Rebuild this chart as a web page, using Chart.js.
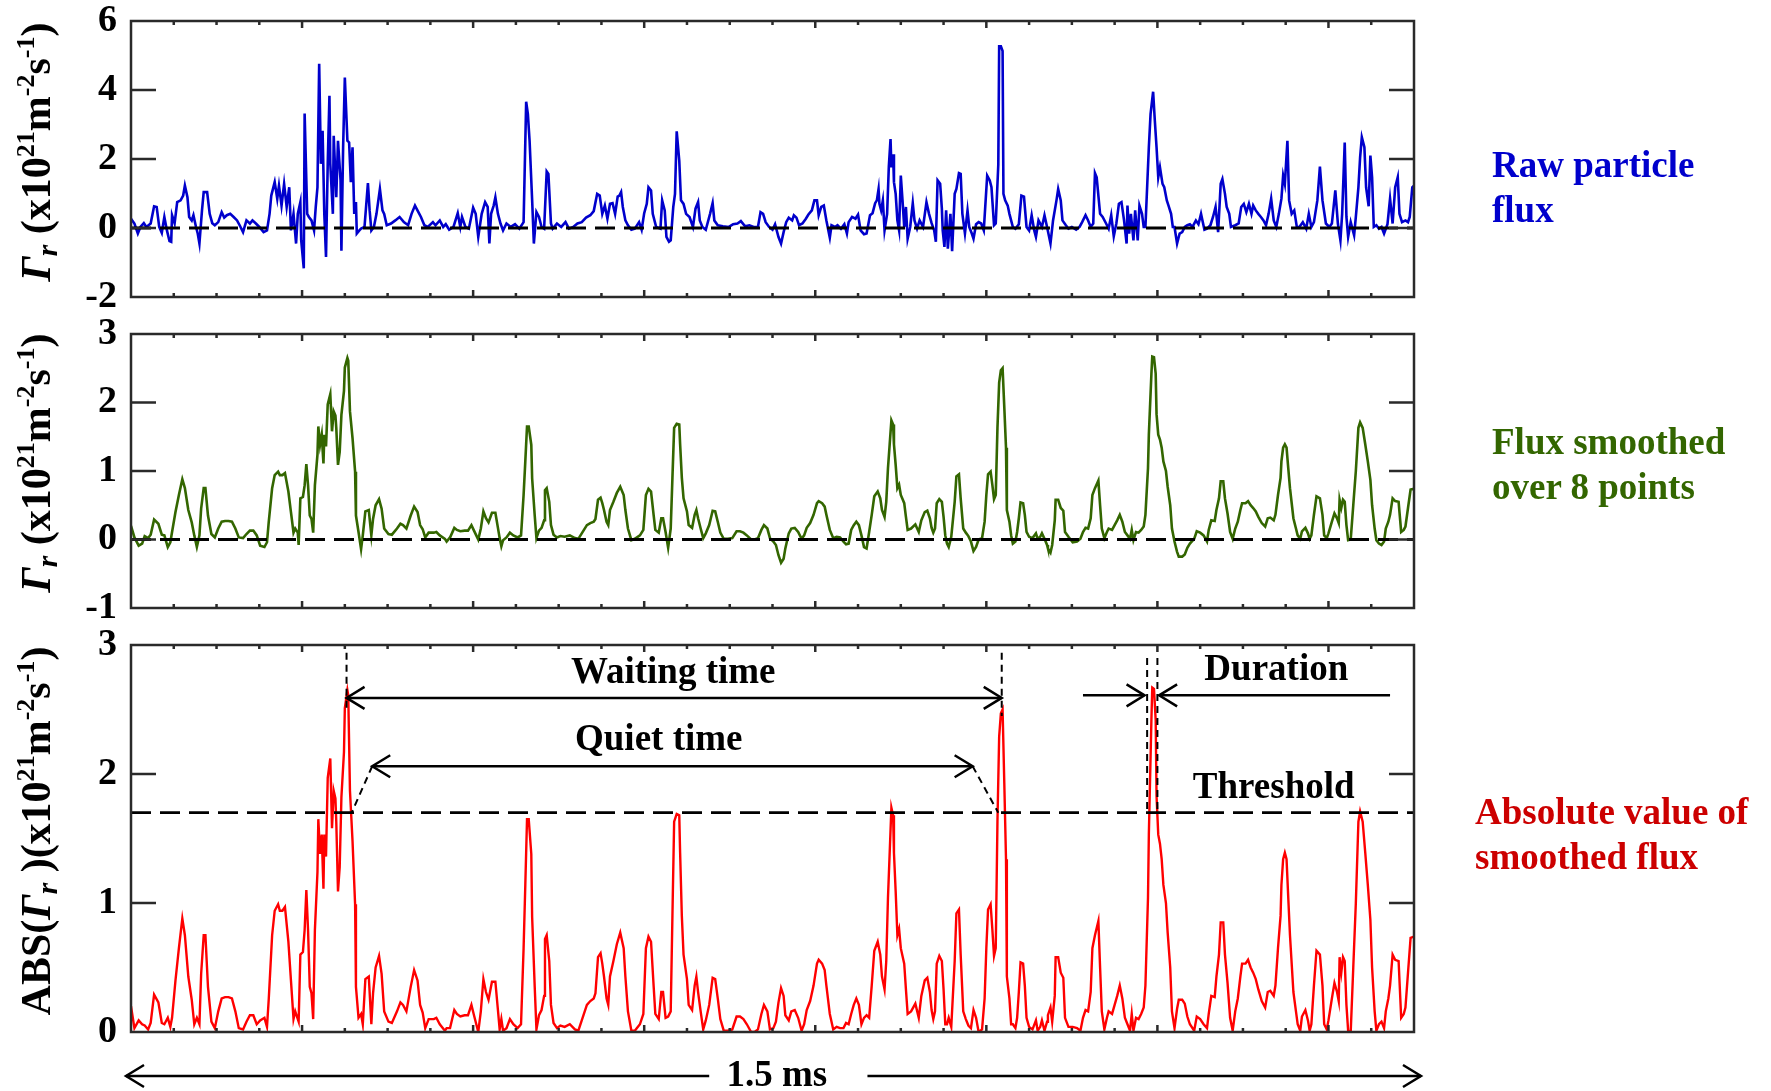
<!DOCTYPE html>
<html>
<head>
<meta charset="utf-8">
<script src="https://cdn.jsdelivr.net/npm/chart.js@4.4.1/dist/chart.umd.min.js"></script>
<style>
  html, body { margin: 0; padding: 0; background: #fff; }
  #page { position: relative; width: 1771px; height: 1091px; overflow: hidden;
          font-family: 'Liberation Serif', 'Times New Roman', serif; font-weight: bold; }
  canvas { position: absolute; left: 0; }
  .ytitle { position: absolute; white-space: nowrap; font-size: 42px; color: #000;
            transform: translate(-50%, -50%) rotate(-90deg); }
  .ytitle sup { font-size: 0.62em; vertical-align: 0.62em; line-height: 0; }
  .ytitle sub { font-size: 0.7em; vertical-align: -0.25em; line-height: 0; }
  .note { position: absolute; font-size: 37px; line-height: 45px; white-space: nowrap; }
</style>
</head>
<body>
<div id="page">
  <canvas id="rawChart" width="1771" height="356" style="top:-19px"></canvas>
  <canvas id="smoothChart" width="1771" height="354" style="top:294px"></canvas>
  <canvas id="absChart" width="1771" height="486" style="top:605px"></canvas>

  <div class="ytitle" style="left:36px; top:152px"><i>Γ</i><sub><i>r</i></sub> (x10<sup>21</sup>m<sup>-2</sup>s<sup>-1</sup>)</div>
  <div class="ytitle" style="left:36px; top:463px"><i>Γ</i><sub><i>r</i></sub> (x10<sup>21</sup>m<sup>-2</sup>s<sup>-1</sup>)</div>
  <div class="ytitle" style="left:36px; top:831px">ABS(<i>Γ</i><sub><i>r</i></sub> )(x10<sup>21</sup>m<sup>-2</sup>s<sup>-1</sup>)</div>

  <div class="note" style="left:1492px; top:142px; color:#0000cc">Raw particle<br>flux</div>
  <div class="note" style="left:1492px; top:419px; color:#336600">Flux smoothed<br>over 8 points</div>
  <div class="note" style="left:1475px; top:789px; color:#cc0000">Absolute value of<br>smoothed flux</div>
</div>

<script>
// time in microseconds (1.5 ms window)
const rawT = [0,4,8,11,15,18,23,27,30,33,36,39,42,45,47,48,51,54,58,61,63,66,68,71,73,76,78,80,83,85,89,92,95,98,102,106,109,112,116,120,124,127,131,135,139,142,146,150,155,159,162,164,168,171,173,176,179,182,185,187,190,193,195,198,199,202,203,206,208,211,214,216,218,220,222,224,226,228,230,232,233,236,237,240,242,245,246,248,250,253,255,257,259,261,263,264,267,269,273,277,279,281,284,287,291,294,296,299,304,309,314,319,324,328,332,336,339,343,347,353,356,361,365,368,372,377,382,385,387,391,395,400,403,406,410,414,417,419,421,424,426,429,432,435,439,444,449,454,459,462,464,466,469,471,474,477,480,483,486,488,491,493,498,503,508,512,517,522,527,532,537,541,545,548,551,554,557,560,563,566,569,571,573,575,578,581,585,589,594,597,600,603,605,608,610,614,619,621,624,626,629,631,634,636,638,641,643,646,649,653,657,660,663,665,668,672,677,680,682,686,692,699,704,709,713,718,723,728,733,736,739,742,746,750,753,757,760,763,766,769,773,775,778,781,785,789,792,796,799,802,804,807,810,813,817,819,823,826,830,834,837,839,843,847,850,853,857,860,864,867,870,872,874,875,877,879,881,884,886,888,889,891,892,894,896,898,900,902,904,906,908,911,914,916,919,922,926,930,933,936,939,941,943,946,948,949,951,953,955,958,960,963,965,968,970,972,975,978,980,983,985,988,991,994,997,999,1001,1004,1006,1009,1011,1014,1015,1017,1019,1020,1022,1025,1027,1031,1034,1038,1041,1044,1047,1050,1053,1056,1058,1061,1065,1068,1071,1075,1078,1082,1084,1087,1089,1093,1096,1100,1105,1109,1112,1116,1119,1122,1125,1127,1129,1133,1136,1140,1143,1146,1149,1152,1155,1158,1161,1164,1165,1167,1169,1172,1174,1177,1179,1182,1184,1186,1190,1192,1195,1197,1199,1201,1203,1206,1208,1211,1213,1216,1218,1220,1223,1226,1229,1232,1235,1238,1241,1245,1248,1251,1255,1258,1262,1265,1268,1271,1274,1276,1279,1281,1284,1286,1291,1295,1298,1301,1304,1307,1310,1312,1315,1318,1321,1324,1327,1330,1333,1336,1339,1342,1345,1347,1349,1352,1354,1357,1360,1363,1366,1370,1374,1377,1380,1383,1387,1390,1393,1397,1401,1404,1408,1411,1414,1416,1419,1421,1423,1426,1430,1432,1435,1437,1439,1442,1444,1447,1449,1451,1453,1456,1459,1462,1465,1469,1472,1475,1478,1481,1483,1486,1490,1493,1495,1498,1500];
const rawFlux = [0.27,0.13,-0.16,0.03,0.14,0.03,0.13,0.63,0.61,0.03,-0.14,0.32,-0.07,-0.38,-0.40,0.37,0.14,0.75,0.80,0.94,1.23,0.89,0.32,0.22,0.37,0.03,-0.16,-0.45,0.51,1.04,1.04,0.41,0.14,0.08,0.17,0.46,0.30,0.37,0.41,0.32,0.22,0.08,-0.12,0.22,0.13,0.22,0.13,0.03,-0.12,-0.07,0.41,0.94,1.33,0.85,1.23,0.65,1.28,0.61,1.18,-0.07,0.41,-0.45,0.41,0.75,-0.36,-1.17,3.32,0.41,0.32,0.22,-0.07,0.61,1.18,4.76,1.86,2.82,0.41,-0.84,1.86,3.83,1.86,0.41,2.67,0.89,2.53,1.38,-0.66,2.34,4.36,2.53,2.48,1.33,2.34,0.41,0.75,-0.16,-0.07,-0.02,0.03,1.30,0.51,-0.07,0.03,0.41,1.13,0.51,0.41,0.08,0.13,0.22,0.32,0.17,0.08,0.41,0.65,0.46,0.32,0.08,0.03,0.17,0.08,0.22,0.03,0.11,-0.05,0.03,0.43,0.03,0.32,0.03,-0.02,0.59,0.41,-0.26,0.41,0.75,0.61,-0.45,0.41,0.65,0.89,0.41,0.13,-0.07,0.13,0.03,0.11,-0.02,0.17,3.66,3.30,2.53,0.80,-0.45,0.46,0.32,0.03,-0.02,1.64,1.57,0.13,-0.02,0.13,0.03,0.17,-0.02,0.03,0.13,0.17,0.30,0.37,0.49,0.99,0.94,0.41,0.65,0.27,0.70,0.72,0.41,0.91,0.94,1.04,0.61,0.22,0.08,-0.05,-0.02,0.17,-0.05,0.43,0.70,1.18,1.09,0.41,0.03,-0.02,0.80,0.51,-0.26,-0.40,-0.36,0.61,0.99,2.80,1.95,0.80,0.70,0.41,0.32,0.03,0.56,0.75,0.22,0.03,-0.05,0.41,0.72,0.22,0.08,0.05,0.03,0.11,0.13,0.20,0.05,0.08,0.03,0.03,0.46,0.41,0.17,0.03,-0.05,0.11,-0.26,-0.45,-0.12,0.17,0.30,0.22,0.37,0.30,0.08,0.13,0.27,0.39,0.51,0.80,0.80,0.37,0.61,0.65,0.22,-0.28,0.08,0.03,0.08,-0.02,0.11,-0.16,0.17,0.32,0.27,0.39,-0.07,-0.18,-0.16,0.37,0.43,0.72,0.80,1.13,0.70,0.51,0.80,-0.07,0.41,1.78,2.58,1.76,2.14,1.33,0.99,0.22,-0.07,1.52,0.80,0.03,0.61,-0.31,0.03,0.72,0.22,-0.02,0.22,0.03,0.75,0.41,0.14,-0.07,-0.40,1.38,1.28,0.56,-0.07,-0.55,0.51,-0.60,0.41,-0.67,0.99,1.13,1.59,1.57,0.41,-0.16,0.51,0.03,-0.16,-0.31,0.11,0.17,0.13,-0.07,0.72,1.52,1.38,1.18,0.08,0.13,1.84,5.27,5.27,5.13,0.99,0.80,0.65,0.41,0.03,-0.02,0.11,0.94,0.91,0.03,-0.07,0.37,-0.07,-0.26,0.22,0.03,0.37,0.03,-0.45,0.22,0.80,1.13,0.80,0.22,0.08,-0.02,0.03,-0.05,0.03,0.17,0.37,0.22,0.03,0.13,1.59,1.47,0.41,0.32,0.13,-0.02,0.37,-0.24,0.13,0.70,0.75,0.22,-0.45,0.65,-0.16,0.41,-0.36,0.51,-0.36,0.65,0.41,0.03,0.03,2.34,3.30,3.95,3.11,2.34,1.47,1.76,1.28,1.18,0.80,0.65,0.41,0.03,0.03,-0.45,-0.16,-0.12,0.03,0.08,0.11,0.03,0.22,0.11,0.41,-0.05,-0.02,0.08,0.32,0.61,-0.12,1.28,1.42,0.99,0.61,0.41,0.03,0.08,0.13,0.61,0.70,0.46,0.70,0.41,0.65,0.51,0.41,0.32,0.22,0.08,0.41,0.85,0.22,0.03,0.41,0.85,1.52,1.28,2.53,0.80,0.41,0.51,0.03,0.03,0.17,-0.02,0.41,0.03,0.17,0.80,1.78,0.80,0.13,0.03,0.13,1.09,0.13,-0.36,0.41,2.48,0.32,-0.26,0.17,-0.21,0.32,1.18,2.05,2.63,2.34,1.18,0.63,2.10,1.47,0.03,0.08,-0.02,0.03,-0.16,0.11,0.85,0.13,1.18,1.47,0.41,0.17,0.22,0.17,0.32,1.18,1.23];

const smoothT = [0,4,9,13,16,20,23,27,32,36,39,43,46,48,52,56,60,63,67,71,74,77,80,82,85,87,90,94,98,102,106,110,114,118,122,126,131,135,139,143,147,151,156,159,161,165,168,172,174,177,180,184,187,190,192,195,196,198,201,203,205,207,209,211,213,215,218,219,221,223,225,226,228,230,233,235,237,239,240,242,244,246,249,250,253,254,256,259,262,263,266,269,271,274,278,281,283,286,290,293,296,301,305,311,315,318,322,327,331,335,338,341,344,348,354,357,361,367,369,373,378,381,385,390,394,398,401,406,409,412,415,418,422,426,429,431,433,435,439,443,447,452,456,459,461,463,465,468,469,472,474,477,480,483,484,486,489,491,494,498,502,507,513,519,523,527,533,537,541,543,546,549,551,553,556,558,560,564,568,572,576,578,581,585,589,595,599,602,605,608,611,613,617,620,622,625,628,631,633,635,638,641,642,644,646,650,652,656,659,661,663,666,669,672,676,680,683,686,689,693,698,703,708,712,716,720,725,729,733,737,740,744,747,751,754,757,760,763,765,769,772,776,780,784,787,790,794,798,802,804,808,811,813,817,821,825,829,833,836,839,842,845,848,851,854,857,860,863,866,869,873,876,878,881,883,885,887,889,891,892,894,896,898,900,902,904,906,908,912,917,921,924,928,931,934,936,938,940,942,945,948,950,952,954,956,959,963,965,968,970,973,976,979,982,985,988,991,995,998,1000,1002,1005,1007,1009,1011,1013,1015,1017,1019,1021,1023,1024,1027,1029,1031,1034,1036,1038,1040,1043,1045,1047,1050,1054,1058,1060,1063,1065,1068,1071,1072,1075,1077,1080,1081,1084,1087,1090,1092,1096,1101,1106,1110,1113,1116,1119,1122,1124,1127,1131,1133,1135,1138,1141,1143,1147,1150,1153,1156,1159,1162,1165,1168,1170,1172,1175,1178,1181,1184,1186,1189,1190,1193,1194,1196,1198,1199,1201,1203,1205,1207,1210,1212,1215,1217,1220,1223,1225,1229,1232,1235,1238,1243,1246,1250,1254,1258,1260,1263,1267,1269,1272,1274,1277,1279,1282,1285,1288,1291,1294,1297,1299,1303,1306,1309,1312,1315,1318,1322,1326,1329,1332,1336,1338,1341,1344,1345,1347,1349,1351,1353,1355,1359,1362,1364,1367,1369,1373,1376,1378,1380,1383,1386,1390,1393,1395,1398,1400,1404,1407,1410,1412,1413,1415,1417,1419,1421,1423,1426,1429,1432,1435,1437,1440,1443,1446,1449,1451,1454,1456,1459,1462,1465,1467,1470,1472,1475,1478,1482,1485,1488,1490,1493,1496,1500];
const smoothFlux = [0.20,0.03,-0.09,-0.06,0.05,0.02,0.07,0.29,0.23,0.07,0.06,-0.11,-0.04,0.11,0.40,0.65,0.88,0.75,0.43,0.25,0.06,-0.11,0.06,0.45,0.75,0.75,0.35,0.08,0.03,0.16,0.26,0.27,0.27,0.26,0.16,0.03,0.02,0.08,0.13,0.13,0.06,-0.09,-0.11,-0.04,0.25,0.75,0.94,0.99,0.94,0.94,0.97,0.70,0.40,0.10,0.16,0.10,-0.08,0.60,0.62,0.79,1.10,0.79,0.35,0.30,0.10,0.79,1.24,1.65,1.38,1.53,1.11,1.53,1.36,1.97,2.12,1.58,1.87,1.81,1.63,1.09,1.28,1.82,2.17,2.51,2.65,2.61,1.87,1.48,0.99,0.35,0.11,-0.14,0.06,0.41,0.43,0.06,0.30,0.50,0.59,0.45,0.16,0.08,0.07,0.16,0.23,0.21,0.16,0.35,0.48,0.40,0.21,0.15,0.03,0.10,0.10,0.11,0.06,0.01,-0.03,0.03,0.17,0.14,0.12,0.13,0.13,0.21,0.13,0.00,0.16,0.41,0.31,0.25,0.39,0.39,0.17,0.02,-0.10,-0.01,0.03,0.10,0.06,0.03,0.06,0.65,1.14,1.65,1.65,1.38,0.89,0.35,0.02,0.13,0.17,0.28,0.72,0.75,0.55,0.21,0.07,0.03,0.05,0.04,0.06,0.02,0.01,0.09,0.21,0.24,0.26,0.30,0.58,0.61,0.53,0.43,0.26,0.21,0.43,0.55,0.68,0.77,0.65,0.43,0.16,-0.01,0.01,0.06,0.14,0.65,0.74,0.70,0.36,0.14,0.10,0.31,0.31,0.11,-0.12,0.16,0.90,1.63,1.69,1.68,1.39,0.90,0.60,0.41,0.21,0.17,0.36,0.43,0.31,0.16,0.02,0.09,0.21,0.42,0.41,0.26,0.10,0.01,0.01,0.02,0.12,0.12,0.10,0.06,0.00,0.00,0.02,0.14,0.21,0.16,0.02,-0.03,-0.08,-0.23,-0.34,-0.28,-0.13,0.09,0.16,0.17,0.11,0.01,0.06,0.17,0.24,0.36,0.53,0.56,0.53,0.48,0.36,0.14,0.02,0.04,0.03,-0.03,-0.07,-0.06,0.14,0.21,0.26,0.21,0.06,-0.11,-0.13,0.11,0.36,0.63,0.70,0.60,0.43,0.33,0.55,1.04,1.39,1.74,1.68,1.39,1.09,0.75,0.80,0.65,0.59,0.53,0.33,0.14,0.16,0.22,0.11,0.28,0.40,0.42,0.31,0.17,0.10,0.16,0.53,0.59,0.55,0.33,0.06,-0.06,-0.11,0.04,0.55,0.92,0.95,0.60,0.16,0.10,0.05,-0.03,-0.17,-0.11,0.00,0.02,0.26,0.65,0.95,0.99,0.80,0.59,0.65,1.63,2.29,2.47,2.50,1.93,1.34,0.43,0.26,0.06,-0.06,-0.03,0.11,0.31,0.54,0.53,0.36,0.11,0.04,0.02,0.09,0.01,0.04,0.09,0.01,-0.08,-0.13,-0.19,-0.08,0.28,0.58,0.58,0.46,0.42,0.11,0.04,-0.04,-0.03,0.01,0.11,0.17,0.16,0.31,0.65,0.75,0.86,0.50,0.16,0.02,0.11,0.16,0.14,0.21,0.28,0.36,0.26,0.11,0.06,0.01,0.14,-0.01,0.11,0.10,0.14,0.19,0.36,1.04,1.53,2.42,2.67,2.66,2.42,1.83,1.53,1.46,1.34,1.14,1.00,0.77,0.50,0.16,-0.03,-0.18,-0.25,-0.25,-0.22,-0.12,-0.06,0.01,0.12,0.10,0.06,-0.03,0.14,0.28,0.27,0.43,0.60,0.85,0.85,0.60,0.38,0.11,0.01,0.16,0.26,0.43,0.53,0.53,0.56,0.50,0.46,0.41,0.33,0.24,0.19,0.31,0.32,0.28,0.36,0.65,0.90,1.14,1.34,1.39,1.34,1.04,0.75,0.31,0.16,0.06,0.01,0.12,0.17,0.09,0.01,0.06,0.36,0.63,0.60,0.36,0.06,0.02,0.09,0.26,0.38,0.31,0.24,0.58,0.46,0.58,0.55,0.21,-0.01,0.00,0.50,1.00,1.63,1.71,1.63,1.39,1.14,0.87,0.50,0.16,-0.01,-0.06,-0.08,-0.03,0.16,0.26,0.36,0.60,0.56,0.55,0.11,0.14,0.19,0.46,0.73,0.74];

// bottom panel: absolute value of the smoothed flux
const absFlux = smoothFlux.map(v => Math.abs(v));

const rawTicks = [-2, 0, 2, 4, 6];
const smoothTicks = [-1, 0, 1, 2, 3];
const absTicks = [0, 1, 2, 3];

const threshold = 1.7;
const waitStart = 252, waitEnd = 1018, waitLevel = 2.59;
const quietStart = 282, quietEnd = 984, quietLevel = 2.06;
const durStart = 1188, durEnd = 1200, durLevel = 2.61;

const tMax = 1500;
const minorStep = 50, majorStep = 200;
const serif = '"Liberation Serif", "Times New Roman", serif';

const frame = {
    id: 'frame',
    afterDatasetsDraw(chart) {
        const { ctx, chartArea: a, scales: { x, y } } = chart;
        ctx.save();
        ctx.strokeStyle = '#2a2a2a';
        ctx.lineWidth = 2.5;
        ctx.beginPath();
        for (let t = minorStep; t < tMax; t += minorStep) {
            const px = x.getPixelForValue(t);
            const len = t % majorStep === 0 ? 7 : 4;
            ctx.moveTo(px, a.top); ctx.lineTo(px, a.top + len);
            ctx.moveTo(px, a.bottom); ctx.lineTo(px, a.bottom - len);
        }
        y.ticks.forEach(tk => {
            if (tk.value <= y.min || tk.value >= y.max) return;
            const py = y.getPixelForValue(tk.value);
            ctx.moveTo(a.left, py); ctx.lineTo(a.left + 25, py);
            ctx.moveTo(a.right, py); ctx.lineTo(a.right - 25, py);
        });
        ctx.stroke();
        ctx.strokeRect(a.left, a.top, a.right - a.left, a.bottom - a.top);
        ctx.restore();
    }
};

function seg(ctx, x1, y1, x2, y2) {
    ctx.beginPath(); ctx.moveTo(x1, y1); ctx.lineTo(x2, y2); ctx.stroke();
}

function head(ctx, tipX, tipY, dir) {
    // open chevron, dir = +1 points right, -1 points left
    ctx.beginPath();
    ctx.moveTo(tipX - dir * 18, tipY - 11);
    ctx.lineTo(tipX, tipY);
    ctx.lineTo(tipX - dir * 18, tipY + 11);
    ctx.stroke();
}

const annotations = {
    id: 'annotations',
    afterDraw(chart) {
        const { ctx, chartArea: a, scales: { x, y } } = chart;
        const X = v => x.getPixelForValue(v);
        const Y = v => y.getPixelForValue(v);
        ctx.save();
        ctx.strokeStyle = '#000';
        ctx.fillStyle = '#000';

        // dashed guide lines
        ctx.lineWidth = 2;
        ctx.setLineDash([7, 5]);
        seg(ctx, X(waitStart), Y(2.94), X(waitStart), Y(2.5));
        seg(ctx, X(waitEnd), Y(2.94), X(waitEnd), Y(2.45));
        seg(ctx, X(quietStart), Y(quietLevel), X(258), Y(threshold));
        seg(ctx, X(quietEnd), Y(quietLevel), X(1014), Y(threshold));
        seg(ctx, X(durStart), Y(2.9), X(durStart), Y(threshold));
        seg(ctx, X(durEnd), Y(2.9), X(durEnd), Y(threshold));
        ctx.setLineDash([]);

        // arrows
        ctx.lineWidth = 2.5;
        seg(ctx, X(waitStart), Y(waitLevel), X(waitEnd), Y(waitLevel));
        head(ctx, X(waitStart), Y(waitLevel), -1);
        head(ctx, X(waitEnd), Y(waitLevel), 1);
        seg(ctx, X(quietStart), Y(quietLevel), X(quietEnd), Y(quietLevel));
        head(ctx, X(quietStart), Y(quietLevel), -1);
        head(ctx, X(quietEnd), Y(quietLevel), 1);
        seg(ctx, X(1113), Y(durLevel), X(durStart - 3), Y(durLevel));
        head(ctx, X(durStart - 3), Y(durLevel), 1);
        seg(ctx, X(durEnd + 2), Y(durLevel), X(1472), Y(durLevel));
        head(ctx, X(durEnd + 2), Y(durLevel), -1);

        ctx.font = 'bold 37px ' + serif;
        ctx.textAlign = 'center';
        ctx.textBaseline = 'middle';
        ctx.fillText('Waiting time', X(634), Y(2.78));
        ctx.fillText('Quiet time', X(617), Y(2.26));
        ctx.fillText('Duration', X(1339), Y(2.80));
        ctx.fillText('Threshold', X(1336), Y(1.89));

        // 1.5 ms span arrow under the panel
        const ay = a.bottom + 44;
        const left = X(0) - 5, right = X(tMax) + 7;
        seg(ctx, left, ay, X(676), ay);
        head(ctx, left, ay, -1);
        seg(ctx, X(861), ay, right, ay);
        head(ctx, right, ay, 1);
        ctx.fillText('1.5 ms', X(755), ay);
        ctx.restore();
    }
};

function pts(ts, vs) {
    return ts.map((t, i) => ({ x: t, y: vs[i] }));
}

function dashed(level) {
    return {
        data: [{ x: 0, y: level }, { x: tMax, y: level }],
        borderColor: '#000',
        borderWidth: 2.8,
        borderDash: [20, 9],
        order: 0
    };
}

function makePanel(id, yMin, yMax, ticks, datasets, pad, extra) {
    return new Chart(document.getElementById(id), {
        type: 'line',
        data: { datasets: datasets },
        options: {
            responsive: false,
            animation: false,
            devicePixelRatio: 1,
            parsing: false,
            layout: { padding: { top: pad.top, bottom: pad.bottom, left: 0, right: 357 } },
            plugins: { legend: { display: false }, tooltip: { enabled: false } },
            elements: { point: { radius: 0 }, line: { tension: 0 } },
            scales: {
                x: { type: 'linear', min: 0, max: tMax, display: false },
                y: {
                    min: yMin,
                    max: yMax,
                    afterBuildTicks: axis => { axis.ticks = ticks.map(v => ({ value: v })); },
                    afterFit: axis => { axis.width = 131; },
                    grid: { display: false, drawTicks: false },
                    border: { display: false },
                    ticks: {
                        color: '#000',
                        padding: 14,
                        font: { family: serif, size: 38, weight: 'bold' }
                    }
                }
            }
        },
        plugins: [frame].concat(extra || [])
    });
}

makePanel('rawChart', -2, 6, rawTicks, [
    dashed(0),
    { data: pts(rawT, rawFlux), borderColor: '#0000cc', borderWidth: 2.6, order: 1 }
], { top: 40, bottom: 40 });

makePanel('smoothChart', -1, 3, smoothTicks, [
    dashed(0),
    { data: pts(smoothT, smoothFlux), borderColor: '#336600', borderWidth: 2.6, order: 1 }
], { top: 40, bottom: 40 });

makePanel('absChart', 0, 3, absTicks, [
    dashed(threshold),
    { data: pts(smoothT, absFlux), borderColor: '#ff0000', borderWidth: 2.4, order: 1 }
], { top: 40, bottom: 59 }, [annotations]);
</script>
</body>
</html>
